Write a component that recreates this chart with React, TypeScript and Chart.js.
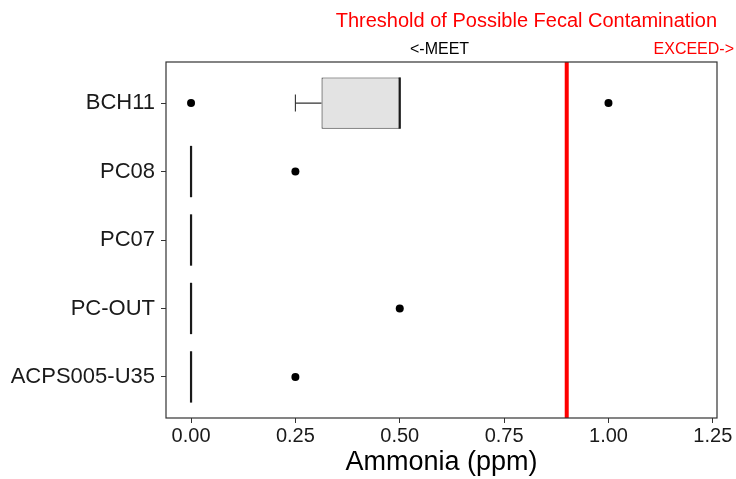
import React, { useEffect, useRef } from 'react';
import { Chart, registerables } from 'chart.js';

Chart.register(...registerables);

// ---- data ----
const categories = ['BCH11', 'PC08', 'PC07', 'PC-OUT', 'ACPS005-U35'];
const q1Values = [0.3125, 0, 0, 0, 0];
const medianValues = [0.5, 0, 0, 0, 0];
const q3Values = [0.5, 0, 0, 0, 0];
const whiskerLowValues = [0.25, 0, 0, 0, 0];
const whiskerHighValues = [0.5, 0, 0, 0, 0];
const outlierCategories = ['BCH11', 'BCH11', 'PC08', 'PC-OUT', 'ACPS005-U35'];
const outlierValues = [0, 1, 0.25, 0.5, 0.25];
const thresholdValue = 0.9;
const xTickValues = [0, 0.25, 0.5, 0.75, 1, 1.25];
const xMin = -0.06;
const xMax = 1.26;
const yMin = -0.6;
const yMax = 4.6;
const titleText = 'Threshold of Possible Fecal Contamination';
const meetText = '<-MEET';
const exceedText = 'EXCEED->';
const xAxisTitle = 'Ammonia (ppm)';

const FONT = "'Liberation Sans', Arial, Helvetica, sans-serif";

const boxPartsPlugin = {
  id: 'boxParts',
  afterDatasetsDraw(chart: any) {
    const { ctx, scales } = chart;
    const xs = scales.x;
    const ys = scales.y;
    const meta = chart.getDatasetMeta(0);
    ctx.save();
    ctx.strokeStyle = '#333333';
    categories.forEach((_, i) => {
      const cy = ys.getPixelForValue(i);
      const el = meta.data[i];
      const half = el ? el.height / 2 : 25;
      const cap = half * 0.33;
      ctx.lineWidth = 1.1;
      if (whiskerLowValues[i] < q1Values[i]) {
        const a = xs.getPixelForValue(whiskerLowValues[i]);
        const b = xs.getPixelForValue(q1Values[i]);
        ctx.beginPath();
        ctx.moveTo(a, cy);
        ctx.lineTo(b, cy);
        ctx.moveTo(a, cy - cap);
        ctx.lineTo(a, cy + cap);
        ctx.stroke();
      }
      if (whiskerHighValues[i] > q3Values[i]) {
        const a = xs.getPixelForValue(q3Values[i]);
        const b = xs.getPixelForValue(whiskerHighValues[i]);
        ctx.beginPath();
        ctx.moveTo(a, cy);
        ctx.lineTo(b, cy);
        ctx.moveTo(b, cy - cap);
        ctx.lineTo(b, cy + cap);
        ctx.stroke();
      }
      const m = xs.getPixelForValue(medianValues[i]);
      ctx.strokeStyle = '#1a1a1a';
      ctx.lineWidth = 2.2;
      ctx.beginPath();
      ctx.moveTo(m, cy - half);
      ctx.lineTo(m, cy + half);
      ctx.stroke();
      ctx.strokeStyle = '#333333';
    });
    ctx.restore();
  },
  afterDraw(chart: any) {
    const { ctx, chartArea } = chart;
    ctx.save();
    ctx.strokeStyle = '#333333';
    ctx.lineWidth = 1.2;
    ctx.strokeRect(chartArea.left, chartArea.top, chartArea.right - chartArea.left, chartArea.bottom - chartArea.top);

    ctx.textBaseline = 'alphabetic';
    ctx.fillStyle = '#ff0000';
    ctx.font = `20px ${FONT}`;
    ctx.textAlign = 'right';
    ctx.fillText(titleText, chartArea.right, 27);

    ctx.font = `16px ${FONT}`;
    ctx.fillStyle = '#000000';
    ctx.textAlign = 'left';
    ctx.fillText(meetText, 410, 54);

    ctx.fillStyle = '#ff0000';
    ctx.textAlign = 'right';
    ctx.fillText(exceedText, 734, 54);
    ctx.restore();
  },
};

export default function App() {
  const canvasRef = useRef<HTMLCanvasElement | null>(null);

  useEffect(() => {
    if (!canvasRef.current) return;
    const chart = new Chart(canvasRef.current, {
      type: 'bar',
      data: {
        datasets: [
          {
            type: 'bar',
            label: 'box',
            data: categories.map((_, i) => ({ y: i, x: [q1Values[i], q3Values[i]] })) as any,
            backgroundColor: '#e3e3e3',
            borderColor: '#333333',
            borderWidth: 1.1,
            borderSkipped: false,
            barPercentage: 0.75,
            categoryPercentage: 1,
            order: 3,
          } as any,
          {
            type: 'scatter',
            label: 'outliers',
            data: outlierCategories.map((c, k) => ({ x: outlierValues[k], y: categories.indexOf(c) })),
            backgroundColor: '#000000',
            borderWidth: 0,
            pointRadius: 4,
            order: 1,
          } as any,
          {
            type: 'line',
            label: 'threshold',
            data: [
              { x: thresholdValue, y: yMin },
              { x: thresholdValue, y: yMax },
            ],
            borderColor: '#ff0000',
            borderWidth: 4,
            pointRadius: 0,
            fill: false,
            order: 2,
          } as any,
        ],
      },
      options: {
        animation: false,
        responsive: false,
        indexAxis: 'y',
        layout: { padding: { top: 62, right: 19, left: 0, bottom: 0 } },
        plugins: {
          legend: { display: false },
          tooltip: { enabled: false },
          title: { display: false },
        },
        scales: {
          x: {
            type: 'linear',
            position: 'bottom',
            min: xMin,
            max: xMax,
            offset: false,
            afterBuildTicks: (s: any) => {
              s.ticks = xTickValues.map((v) => ({ value: v }));
            },
            afterFit: (s: any) => {
              s.height = 61;
            },
            ticks: {
              callback: (v: any) => Number(v).toFixed(2),
              font: { family: FONT, size: 20 },
              color: '#1a1a1a',
              padding: 1,
              autoSkip: false,
              maxRotation: 0,
            },
            grid: {
              display: true,
              offset: false,
              drawOnChartArea: false,
              drawTicks: true,
              tickLength: 5,
              color: '#333333',
              lineWidth: 1,
            },
            border: { display: false },
            title: {
              display: true,
              text: xAxisTitle,
              font: { family: FONT, size: 27 },
              color: '#000000',
              padding: { top: 0, bottom: 0 },
            },
          },
          y: {
            type: 'linear',
            position: 'left',
            min: yMin,
            max: yMax,
            reverse: true,
            offset: false,
            afterBuildTicks: (s: any) => {
              s.ticks = categories.map((_, i) => ({ value: i }));
            },
            afterFit: (s: any) => {
              s.width = 166;
            },
            ticks: {
              callback: (v: any) => categories[Math.round(Number(v))] ?? '',
              font: { family: FONT, size: 22 },
              color: '#1a1a1a',
              padding: 6,
              autoSkip: false,
            },
            grid: {
              display: true,
              offset: false,
              drawOnChartArea: false,
              drawTicks: true,
              tickLength: 5,
              color: '#333333',
              lineWidth: 1,
            },
            border: { display: false },
          },
        },
      } as any,
      plugins: [boxPartsPlugin],
    });
    return () => chart.destroy();
  }, []);

  return (
    <div style={{ position: 'absolute', left: 0, top: 0, width: 736, height: 479, background: '#ffffff' }}>
      <canvas ref={canvasRef} width={736} height={479} style={{ display: 'block' }} />
    </div>
  );
}
